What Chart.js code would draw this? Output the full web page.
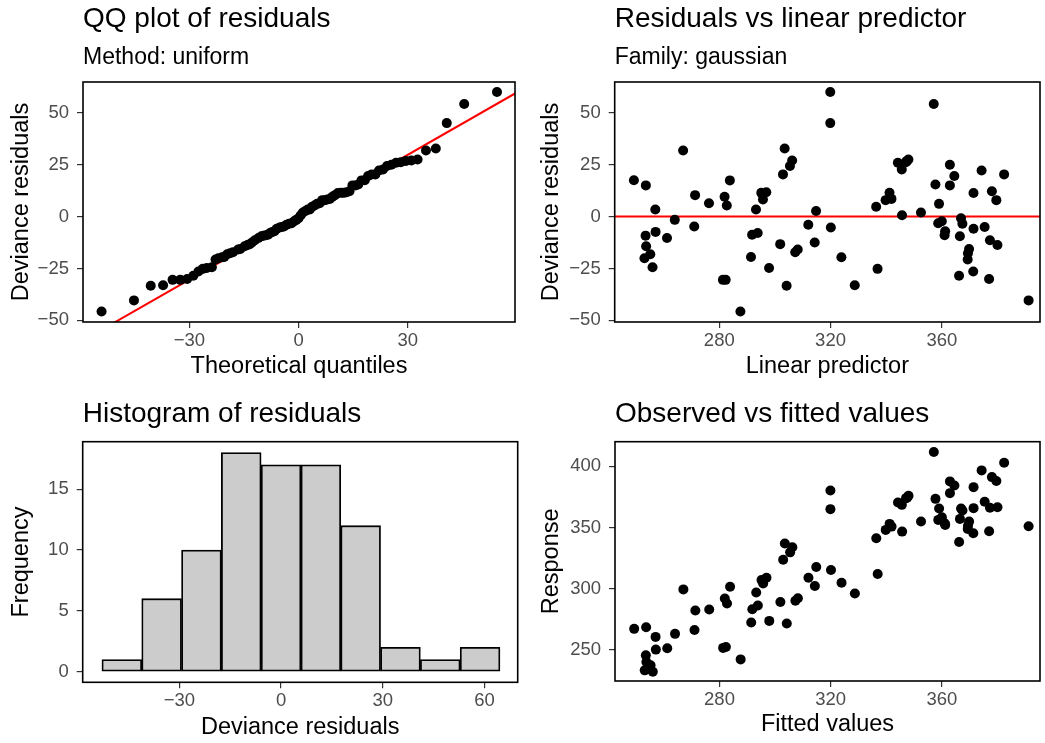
<!DOCTYPE html>
<html>
<head>
<meta charset="utf-8">
<script src="https://cdn.jsdelivr.net/npm/chart.js@4/dist/chart.umd.min.js"></script>
<style>
    html, body { margin: 0; padding: 0; background: #ffffff; }
    body { width: 1045px; height: 743px; position: relative; overflow: hidden; }
    .panel { position: absolute; }
</style>
</head>
<body>
<div class="panel" style="left:0;top:0;width:520px;height:390px"><canvas id="qq-chart"></canvas></div>
<div class="panel" style="left:520px;top:0;width:525px;height:390px"><canvas id="linpred-chart"></canvas></div>
<div class="panel" style="left:0;top:390px;width:520px;height:353px"><canvas id="hist-chart"></canvas></div>
<div class="panel" style="left:520px;top:390px;width:525px;height:353px"><canvas id="fitted-chart"></canvas></div>
<script>
const linearPredictor = [249.3, 253.6, 253.5, 253.7, 253.1, 255.2, 256.0, 257.0, 257.1, 261.2,
    264.0, 267.0, 271.0, 271.3, 276.3, 281.3, 282.3, 281.9, 282.7, 283.8,
    287.6, 291.4, 291.8, 293.8, 293.2, 295.7, 295.1, 296.9, 297.9, 301.9,
    302.9, 303.5, 304.2, 305.4, 306.2, 307.3, 308.2, 312.0, 314.3, 314.8,
    319.9, 319.9, 320.1, 323.9, 328.7, 336.4, 336.9, 339.8, 341.2, 341.9,
    344.2, 345.6, 347.1, 348.0, 345.7, 352.5, 357.1, 357.7, 359.0, 358.7,
    360.0, 361.2, 361.0, 362.9, 364.5, 362.9, 366.2, 366.5, 366.9, 367.4,
    369.8, 369.4, 369.3, 371.3, 371.4, 371.4, 374.3, 375.4, 377.0, 377.3,
    378.0, 379.6, 380.0, 382.4, 391.2, 347.5];
const devianceResiduals = [17.5, 15.0, -9.2, -14.3, -20.1, -18.2, -24.4, 3.4, -7.4, -10.3,
    -1.6, 31.8, -4.8, 10.3, 6.4, -30.5, -30.5, 9.5, 5.3, 17.4,
    -45.7, -19.5, -8.8, -7.9, 3.4, 8.2, 11.4, 11.7, -24.8, -13.3,
    20.3, 32.8, -33.3, 24.3, 27.0, -17.2, -15.9, -4.0, -12.5, 2.7,
    60.0, 45.0, -5.3, -19.6, -33.1, 4.7, -25.2, 7.9, 11.4, 8.5,
    25.9, 22.7, 26.2, 27.5, 0.6, 1.9, 54.2, 15.4, 6.1, -3.2,
    -2.3, -7.1, -9.0, 24.9, 19.5, 15.0, -28.5, -9.5, -0.8, -3.5,
    -15.6, -17.7, -20.7, -26.5, 11.3, -5.9, 22.2, -5.0, -30.1, -11.4,
    12.2, 7.9, -13.7, 20.3, -40.4, 26.8];
const response = [267.0, 268.3, 245.3, 239.9, 233.0, 237.1, 231.9, 260.4, 250.0, 251.1,
    262.9, 299.3, 266.1, 282.0, 282.8, 251.4, 252.2, 291.9, 287.8, 301.5,
    242.0, 272.2, 283.1, 286.1, 296.8, 304.2, 306.9, 308.8, 273.5, 288.9,
    323.6, 336.8, 271.3, 329.6, 333.8, 290.0, 292.1, 308.8, 302.0, 317.6,
    380.3, 365.0, 315.1, 304.7, 296.0, 341.1, 311.9, 348.0, 352.9, 350.7,
    370.4, 368.5, 374.0, 375.9, 346.6, 354.8, 411.8, 373.4, 365.5, 356.2,
    358.4, 352.1, 353.5, 387.7, 384.4, 378.1, 338.1, 357.0, 365.5, 363.9,
    354.8, 351.3, 348.8, 345.3, 383.0, 365.8, 396.7, 371.0, 346.9, 366.1,
    391.2, 388.0, 366.6, 403.0, 351.0, 374.3];

// QQ plot points
const qqTheoretical = [-54.1, -45.2, -40.6, -37.2, -34.6, -32.5, -30.6, -28.9, -27.5, -26.3,
    -25.2, -23.8, -22.8, -22.0, -21.0, -20.4, -19.6, -18.8, -18.0, -16.6,
    -16.0, -14.8, -14.0, -13.4, -12.8, -12.0, -11.0, -10.2, -9.6, -9.0,
    -8.4, -7.8, -7.2, -6.6, -6.0, -5.2, -4.6, -4.0, -3.3, -2.6,
    -1.9, -1.2, -0.6, 0.0, 0.6, 1.2, 1.9, 2.5, 3.1, 3.7,
    4.4, 5.1, 5.8, 6.5, 7.2, 7.9, 8.6, 9.3, 10.0, 10.8,
    11.6, 12.4, 13.2, 14.0, 14.8, 15.6, 16.4, 17.3, 18.2, 19.1,
    20.1, 21.1, 22.1, 23.2, 24.3, 25.5, 26.8, 28.1, 29.5, 31.0,
    32.7, 35.0, 37.7, 40.7, 45.5, 54.5];
const qqSample = [-45.7, -40.4, -33.3, -33.1, -30.5, -30.5, -30.1, -28.5, -26.5, -25.2,
    -24.8, -24.4, -20.7, -20.1, -19.6, -19.5, -18.2, -17.7, -17.2, -15.9,
    -15.6, -14.3, -13.7, -13.3, -12.5, -11.4, -10.3, -9.5, -9.2, -9.0,
    -8.8, -7.9, -7.4, -7.1, -5.9, -5.3, -5.0, -4.8, -4.0, -3.5,
    -3.2, -2.3, -1.6, -0.8, 0.6, 1.9, 2.7, 3.4, 3.4, 4.7,
    5.3, 6.1, 6.4, 7.9, 7.9, 8.2, 8.5, 9.5, 10.3, 11.3,
    11.4, 11.4, 11.7, 12.2, 15.0, 15.0, 15.4, 17.4, 17.5, 19.5,
    20.3, 20.3, 22.2, 22.7, 24.3, 24.9, 25.9, 26.2, 26.8, 27.0,
    27.5, 31.8, 32.8, 45.0, 54.2, 60.0];
const qqLineX = [-60, 60];
const qqLineY = [-60.5, 59.8];
const zeroLineX = [230, 400];
const zeroLineY = [0, 0];

// histogram
const histBinCenters = [-46.96, -35.22, -23.48, -11.74, 0, 11.74, 23.48, 35.22, 46.96, 58.70];
const histCounts = [1, 6, 10, 18, 17, 17, 12, 2, 1, 2];

// tick labels
const qqXTicks = [-30, 0, 30];
const residualYTicks = [-50, -25, 0, 25, 50];
const linpredXTicks = [280, 320, 360];
const histXTicks = [-30, 0, 30, 60];
const histYTicks = [0, 5, 10, 15];
const responseYTicks = [250, 300, 350, 400];

Chart.defaults.font.family = "'Liberation Sans', Arial, Helvetica, sans-serif";
Chart.defaults.color = '#000000';

const toPoints = (xs, ys) => xs.map((x, i) => ({ x: x, y: ys[i] }));
const formatTick = (v) => v < 0 ? '\u2212' + Math.abs(v) : String(v);

// draws the black frame round each panel
const panelBorder = {
    id: 'panelBorder',
    afterDraw: (chart) => {
        const { ctx, chartArea } = chart;
        ctx.save();
        ctx.strokeStyle = '#000000';
        ctx.lineWidth = 1.6;
        ctx.strokeRect(chartArea.left, chartArea.top, chartArea.right - chartArea.left, chartArea.bottom - chartArea.top);
        ctx.restore();
    }
};

const makeScale = (opts) => {
    const isLeft = opts.position === 'left';
    return {
        type: 'linear',
        position: opts.position,
        min: opts.min,
        max: opts.max,
        offset: false,
        afterBuildTicks: (scale) => {
            scale.ticks = opts.ticks.map(v => ({ value: v }));
        },
        afterFit: (scale) => {
            if (isLeft) scale.width = opts.size;
            else scale.height = opts.size;
        },
        grid: {
            offset: false,
            drawOnChartArea: false,
            drawTicks: true,
            tickLength: 6,
            color: '#333333',
            lineWidth: 1.2
        },
        border: { display: false },
        ticks: {
            autoSkip: false,
            maxRotation: 0,
            padding: isLeft ? 8 : 2,
            color: '#4d4d4d',
            font: { size: 18.5 },
            callback: (v) => formatTick(v)
        },
        title: {
            display: true,
            text: opts.title,
            color: '#000000',
            font: { size: 23.5 },
            padding: isLeft ? { top: opts.titlePad } : { bottom: opts.titlePad }
        }
    };
};

const makePlugins = (title, subtitle, titlePad, subtitlePad) => ({
    legend: { display: false },
    tooltip: { enabled: false },
    title: {
        display: true,
        text: title,
        align: 'start',
        fullSize: false,
        color: '#000000',
        font: { size: 28, weight: 'normal' },
        padding: titlePad
    },
    subtitle: {
        display: subtitle !== '',
        text: subtitle,
        align: 'start',
        fullSize: false,
        color: '#000000',
        font: { size: 23, weight: 'normal' },
        padding: subtitlePad
    }
});

const pointStyle = {
    backgroundColor: '#000000',
    borderColor: '#000000',
    borderWidth: 0,
    pointRadius: 5,
    order: 0
};
const redLine = {
    type: 'line',
    borderColor: '#ff0000',
    borderWidth: 2,
    pointRadius: 0,
    fill: false,
    clip: 0,
    order: 1
};

// QQ plot of residuals
new Chart(document.getElementById('qq-chart'), {
    type: 'scatter',
    data: {
        datasets: [
            Object.assign({ data: toPoints(qqTheoretical, qqSample) }, pointStyle),
            Object.assign({ data: toPoints(qqLineX, qqLineY) }, redLine)
        ]
    },
    options: {
        responsive: true,
        maintainAspectRatio: false,
        animation: false,
        layout: { padding: { right: 2 } },
        plugins: makePlugins('QQ plot of residuals', 'Method: uniform', { top: 2, bottom: 0 }, { top: 7.8, bottom: 11 }),
        scales: {
            x: makeScale({ position: 'bottom', min: -59.2, max: 59.45, ticks: qqXTicks, size: 68, title: 'Theoretical quantiles', titlePad: 9.4 }),
            y: makeScale({ position: 'left', min: -50.8, max: 64.8, ticks: residualYTicks, size: 83, title: 'Deviance residuals', titlePad: 7.4 })
        }
    },
    plugins: [panelBorder]
});

// Residuals vs linear predictor
new Chart(document.getElementById('linpred-chart'), {
    type: 'scatter',
    data: {
        datasets: [
            Object.assign({ data: toPoints(linearPredictor, devianceResiduals) }, pointStyle),
            Object.assign({ data: toPoints(zeroLineX, zeroLineY) }, redLine)
        ]
    },
    options: {
        responsive: true,
        maintainAspectRatio: false,
        animation: false,
        layout: { padding: { right: 2 } },
        plugins: makePlugins('Residuals vs linear predictor', 'Family: gaussian', { top: 2, bottom: 0 }, { top: 7.8, bottom: 11 }),
        scales: {
            x: makeScale({ position: 'bottom', min: 242.4, max: 395.3, ticks: linpredXTicks, size: 68, title: 'Linear predictor', titlePad: 9.4 }),
            y: makeScale({ position: 'left', min: -50.8, max: 64.8, ticks: residualYTicks, size: 94.7, title: 'Deviance residuals', titlePad: 17.6 })
        }
    },
    plugins: [panelBorder]
});

// Histogram of residuals
new Chart(document.getElementById('hist-chart'), {
    type: 'bar',
    data: {
        datasets: [{
            data: toPoints(histBinCenters, histCounts),
            backgroundColor: '#cccccc',
            borderColor: '#000000',
            borderWidth: 1.8,
            borderSkipped: false,
            barPercentage: 1,
            categoryPercentage: 1,
            grouped: false
        }]
    },
    options: {
        responsive: true,
        maintainAspectRatio: false,
        animation: false,
        layout: { padding: { right: 2.3 } },
        plugins: makePlugins('Histogram of residuals', '', { top: 7.9, bottom: 10.2 }, 0),
        scales: {
            x: makeScale({ position: 'bottom', min: -58.5, max: 69.8, ticks: histXTicks, size: 60.7, title: 'Deviance residuals', titlePad: 1.4 }),
            y: makeScale({ position: 'left', min: -0.87, max: 18.9, ticks: histYTicks, size: 82.7, title: 'Frequency', titlePad: 7.4 })
        }
    },
    plugins: [panelBorder]
});

// Observed vs fitted values
new Chart(document.getElementById('fitted-chart'), {
    type: 'scatter',
    data: {
        datasets: [
            Object.assign({ data: toPoints(linearPredictor, response) }, pointStyle)
        ]
    },
    options: {
        responsive: true,
        maintainAspectRatio: false,
        animation: false,
        layout: { padding: { right: 2 } },
        plugins: makePlugins('Observed vs fitted values', '', { top: 7.9, bottom: 10.2 }, 0),
        scales: {
            x: makeScale({ position: 'bottom', min: 242.4, max: 395.3, ticks: linpredXTicks, size: 62, title: 'Fitted values', titlePad: 3.9 }),
            y: makeScale({ position: 'left', min: 224.3, max: 420.2, ticks: responseYTicks, size: 95, title: 'Response', titlePad: 17.6 })
        }
    },
    plugins: [panelBorder]
});
</script>
</body>
</html>
